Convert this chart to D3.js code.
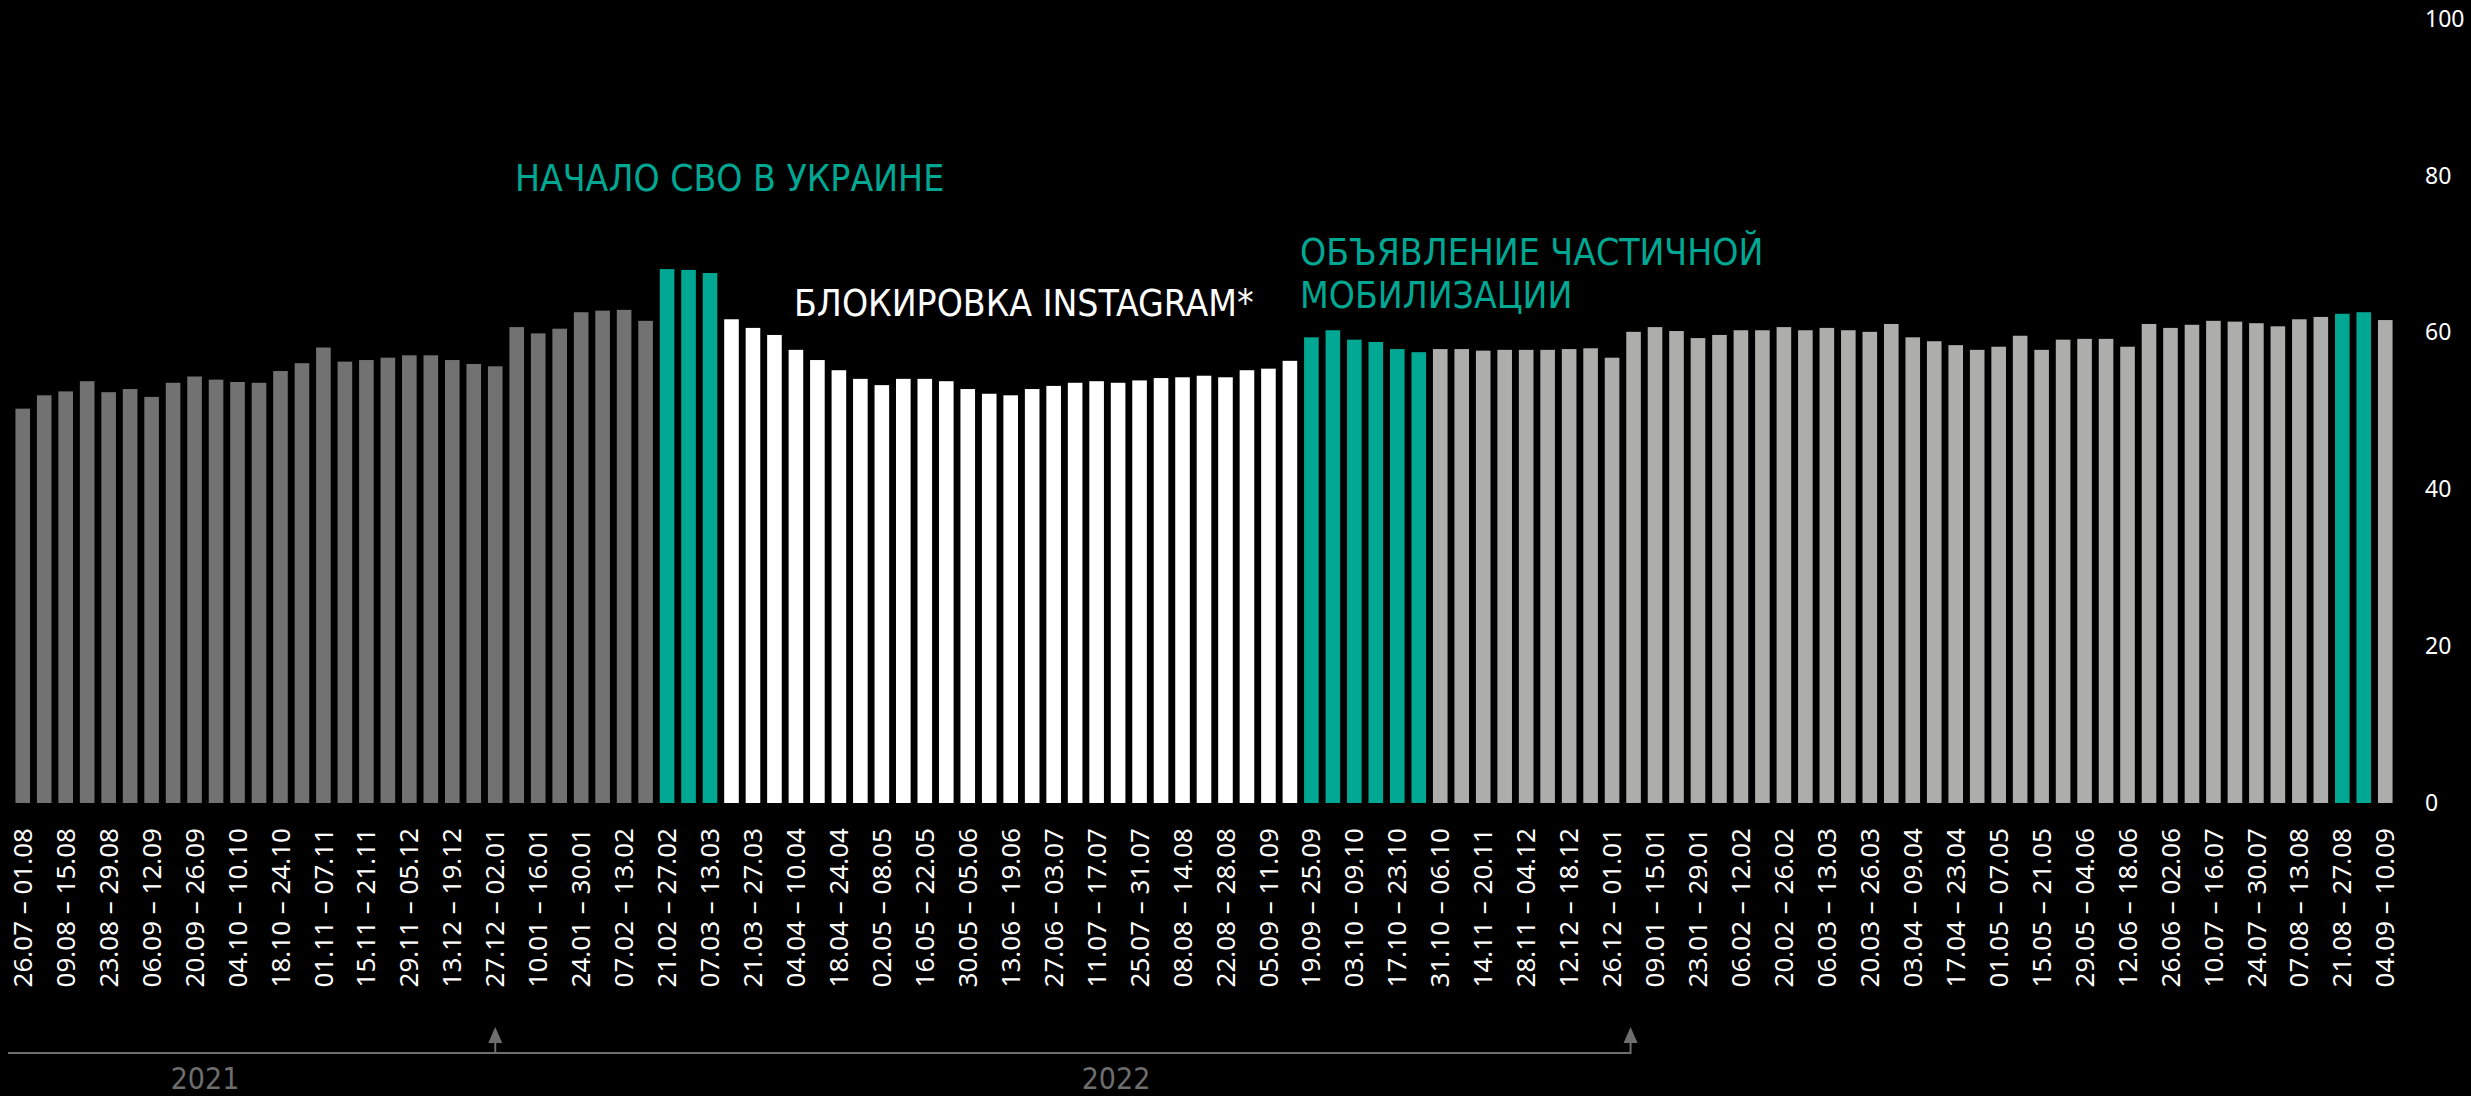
<!DOCTYPE html>
<html>
<head>
<meta charset="utf-8">
<script src="https://cdn.jsdelivr.net/npm/d3@7"></script>
<style>
  html, body { margin: 0; padding: 0; background: #000; }
  #viz { width: 2471px; height: 1096px; }
</style>
</head>
<body>
<div id="viz"></div>
<script>
// Weekly values, from 26.07.2021 to 04.09.2023 (one bar per week).
var values = [
  50.3, 52.0, 52.5, 53.8, 52.4, 52.8, 51.8, 53.6, 54.4, 54.0,
  53.7, 53.6, 55.1, 56.1, 58.1, 56.3, 56.5, 56.8, 57.1, 57.1,
  56.5, 56.0, 55.7, 60.7, 59.9, 60.5, 62.6, 62.8, 62.9, 61.5,
  68.1, 68.0, 67.6, 61.7, 60.6, 59.7, 57.8, 56.5, 55.2, 54.1,
  53.3, 54.1, 54.1, 53.8, 52.8, 52.2, 52.0, 52.8, 53.2, 53.6,
  53.8, 53.6, 53.9, 54.2, 54.3, 54.5, 54.3, 55.2, 55.4, 56.4,
  59.4, 60.3, 59.1, 58.8, 57.9, 57.5, 57.9, 57.9, 57.7, 57.8,
  57.8, 57.8, 57.9, 58.0, 56.8, 60.1, 60.7, 60.2, 59.3, 59.7,
  60.3, 60.3, 60.7, 60.3, 60.6, 60.3, 60.1, 61.1, 59.4, 58.9,
  58.4, 57.8, 58.2, 59.6, 57.8, 59.1, 59.2, 59.2, 58.2, 61.1,
  60.6, 61.0, 61.5, 61.4, 61.2, 60.8, 61.7, 62.0, 62.4, 62.6,
  61.6
];

// Labels under every second week.
var tickLabels = [
  "26.07 – 01.08", "09.08 – 15.08", "23.08 – 29.08", "06.09 – 12.09", "20.09 – 26.09",
  "04.10 – 10.10", "18.10 – 24.10", "01.11 – 07.11", "15.11 – 21.11", "29.11 – 05.12",
  "13.12 – 19.12", "27.12 – 02.01", "10.01 – 16.01", "24.01 – 30.01", "07.02 – 13.02",
  "21.02 – 27.02", "07.03 – 13.03", "21.03 – 27.03", "04.04 – 10.04", "18.04 – 24.04",
  "02.05 – 08.05", "16.05 – 22.05", "30.05 – 05.06", "13.06 – 19.06", "27.06 – 03.07",
  "11.07 – 17.07", "25.07 – 31.07", "08.08 – 14.08", "22.08 – 28.08", "05.09 – 11.09",
  "19.09 – 25.09", "03.10 – 09.10", "17.10 – 23.10", "31.10 – 06.10", "14.11 – 20.11",
  "28.11 – 04.12", "12.12 – 18.12", "26.12 – 01.01", "09.01 – 15.01", "23.01 – 29.01",
  "06.02 – 12.02", "20.02 – 26.02", "06.03 – 13.03", "20.03 – 26.03", "03.04 – 09.04",
  "17.04 – 23.04", "01.05 – 07.05", "15.05 – 21.05", "29.05 – 04.06", "12.06 – 18.06",
  "26.06 – 02.06", "10.07 – 16.07", "24.07 – 30.07", "07.08 – 13.08", "21.08 – 27.08",
  "04.09 – 10.09"
];

// Periods of the chart: [first week, last week, kind].
var periods = [
  [0, 29, "before"],
  [30, 32, "event"],
  [33, 59, "instagram"],
  [60, 65, "event"],
  [66, 107, "after"],
  [108, 109, "event"],
  [110, 110, "after"]
];

var yTicks = [0, 20, 40, 60, 80, 100];
var years = ["2021", "2022"];

var W = 2471, H = 1096;
var colors = { before: "#727272", event: "#00a894", instagram: "#ffffff", after: "#adadab" };

function kindOf(i) {
  for (var k = 0; k < periods.length; k++) {
    if (i >= periods[k][0] && i <= periods[k][1]) return periods[k][2];
  }
  return "after";
}

var svg = d3.select("#viz").append("svg")
  .attr("width", W).attr("height", H)
  .style("background", "#000");

var x = d3.scaleBand()
  .domain(d3.range(values.length))
  .range([12, 2396])
  .paddingInner(0.32)
  .paddingOuter(0.16);

var y = d3.scaleLinear().domain([0, 100]).range([803, 19]);

// bars
svg.append("g").selectAll("rect")
  .data(values)
  .join("rect")
    .attr("x", function (d, i) { return x(i); })
    .attr("y", function (d) { return y(d); })
    .attr("width", x.bandwidth())
    .attr("height", function (d) { return y(0) - y(d); })
    .attr("fill", function (d, i) { return colors[kindOf(i)]; });

// right axis, labels only
var yAxis = d3.axisRight(y).tickValues(yTicks).tickSize(0).tickPadding(0);
var gy = svg.append("g").attr("transform", "translate(2425,0)").call(yAxis);
gy.select(".domain").remove();
gy.selectAll("text")
  .attr("x", 0)
  .attr("fill", "#fff")
  .style("font-family", "'Noto Sans', sans-serif")
  .style("font-size", "23px")
  .attr("text-anchor", "start");

// bottom axis: every second week, rotated
var xAxis = d3.axisBottom(x)
  .tickValues(d3.range(0, values.length, 2))
  .tickFormat(function (d) { return tickLabels[d / 2]; })
  .tickSize(0);
var gx = svg.append("g").attr("transform", "translate(0,828)").call(xAxis);
gx.select(".domain").remove();
gx.selectAll("text")
  .attr("transform", "rotate(-90)")
  .attr("x", 0).attr("y", 0).attr("dy", "0.35em")
  .attr("text-anchor", "end")
  .attr("fill", "#fff")
  .style("font-family", "'Noto Sans', sans-serif")
  .style("font-size", "26px");

// time line with two arrows (new year marks)
var lineY = 1053, tipY = 1027;
var a1 = x(22) + x.bandwidth() / 2;
var a2 = x(75) + x.bandwidth() / 2 - 3;
var grey = "#6e6e6e";
svg.append("path")
  .attr("d", "M8," + lineY + "H" + a2 + "V" + (tipY + 14))
  .attr("fill", "none").attr("stroke", grey).attr("stroke-width", 2);
svg.append("path")
  .attr("d", "M" + a1 + "," + lineY + "V" + (tipY + 14))
  .attr("fill", "none").attr("stroke", grey).attr("stroke-width", 2);
[a1, a2].forEach(function (ax) {
  svg.append("path")
    .attr("d", "M" + ax + "," + tipY + "L" + (ax - 7) + "," + (tipY + 16) + "L" + (ax + 7) + "," + (tipY + 16) + "Z")
    .attr("fill", grey);
});

svg.selectAll(".year")
  .data(years)
  .join("text")
    .attr("class", "year")
    .attr("x", function (d, i) { return i === 0 ? 205 : 1116; })
    .attr("y", 1089)
    .attr("text-anchor", "middle")
    .attr("fill", grey)
    .style("font-family", "'Liberation Sans Narrow', 'DejaVu Sans Condensed', sans-serif")
    .style("font-size", "30px")
    .text(function (d) { return d; });

// annotations
var note = "'Liberation Sans Narrow', 'DejaVu Sans Condensed', sans-serif";
function annotate(tx, ty, txt, fill) {
  svg.append("text")
    .attr("x", tx).attr("y", ty)
    .attr("fill", fill)
    .style("font-family", note)
    .style("font-size", "37px")
    .text(txt);
}
annotate(515, 191, "НАЧАЛО СВО В УКРАИНЕ", colors.event);
annotate(794, 316, "БЛОКИРОВКА INSTAGRAM*", "#fff");
annotate(1300, 265, "ОБЪЯВЛЕНИЕ ЧАСТИЧНОЙ", colors.event);
annotate(1300, 308, "МОБИЛИЗАЦИИ", colors.event);
</script>
</body>
</html>
